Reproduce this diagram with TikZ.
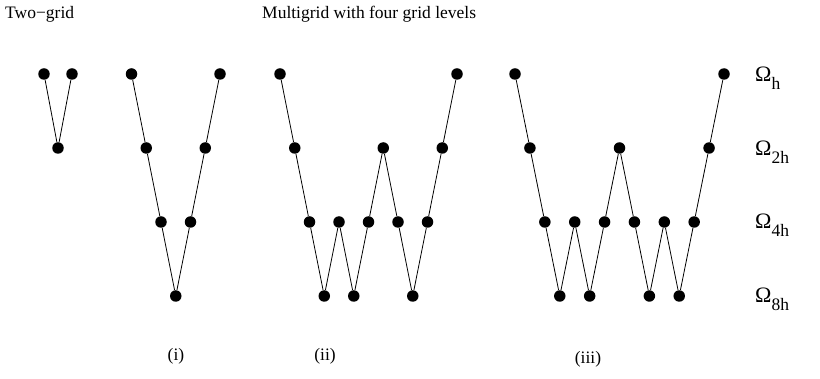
\documentclass[tikz,border=0pt]{standalone}
\usepackage{fontspec}
\setmainfont{Liberation Serif}
\begin{document}
\begin{tikzpicture}[x=1pt,y=-1pt,
  dot/.style={circle,fill=black,inner sep=0pt,minimum size=11.5pt},
  edge/.style={line width=0.8pt},
  txt/.style={font=\fontsize{17.5}{21}\selectfont,inner sep=0pt},
  lev/.style={font=\fontsize{22}{26}\selectfont,inner sep=0pt,anchor=base west}]
\useasboundingbox (0,0) rectangle (820,379);
% titles
\node[txt,anchor=base west] (title1) at (5,19) {Two−grid};
\node[txt,anchor=base west] (title2) at (262,19) {Multigrid with four grid levels};
% two-grid
\foreach \l [count=\k] in {0,1,0}
  \node[dot] (t\k) at ({44+14*(\k-1)},{74+74*\l}) {};
\draw[edge] (t1) -- (t2) -- (t3);
% (i) V-cycle
\foreach \l [count=\k] in {0,1,2,3,2,1,0}
  \node[dot] (v\k) at ({131.5+14.75*(\k-1)},{74+74*\l}) {};
\foreach \k [remember=\k as \p (initially 1)] in {2,...,7}
  \draw[edge] (v\p) -- (v\k);
% (ii) W-cycle
\foreach \l [count=\k] in {0,1,2,3,2,3,2,1,2,3,2,1,0}
  \node[dot] (w\k) at ({280+14.75*(\k-1)},{74+74*\l}) {};
\foreach \k [remember=\k as \p (initially 1)] in {2,...,13}
  \draw[edge] (w\p) -- (w\k);
% (iii)
\foreach \l [count=\k] in {0,1,2,3,2,3,2,1,2,3,2,3,2,1,0}
  \node[dot] (f\k) at ({515+14.93*(\k-1)},{74+74*\l}) {};
\foreach \k [remember=\k as \p (initially 1)] in {2,...,15}
  \draw[edge] (f\p) -- (f\k);
% level labels
\node[lev] (L1) at (755,82) {Ω\raisebox{-0.35em}{\fontsize{17.5}{21}\selectfont h}};
\node[lev] (L2) at (755,156) {Ω\raisebox{-0.35em}{\fontsize{17.5}{21}\selectfont 2h}};
\node[lev] (L3) at (755,229) {Ω\raisebox{-0.35em}{\fontsize{17.5}{21}\selectfont 4h}};
\node[lev] (L4) at (755,303) {Ω\raisebox{-0.35em}{\fontsize{17.5}{21}\selectfont 8h}};
% captions
\node[txt,anchor=base] (c1) at (176,361) {(i)};
\node[txt,anchor=base] (c2) at (325,361) {(ii)};
\node[txt,anchor=base] (c3) at (588,364) {(iii)};
\end{tikzpicture}
\end{document}
